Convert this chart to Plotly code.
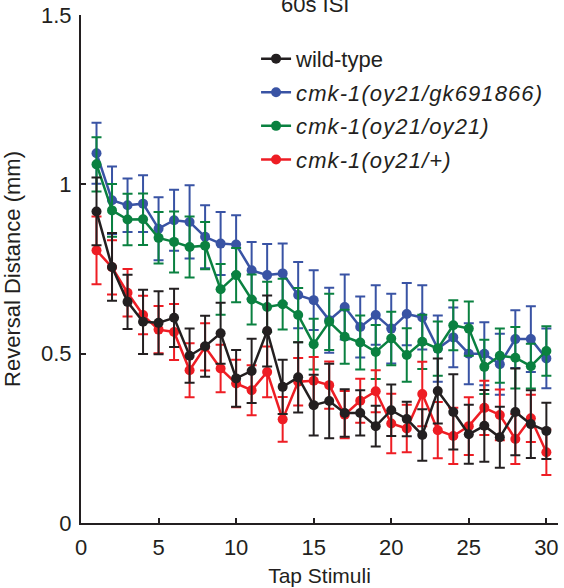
import plotly.graph_objects as go

tap = list(range(1, 31))

wt = [0.92, 0.756, 0.653, 0.594, 0.591, 0.606, 0.494, 0.522, 0.56, 0.427,
      0.449, 0.567, 0.402, 0.43, 0.348, 0.36, 0.325, 0.325, 0.286, 0.333,
      0.307, 0.26, 0.39, 0.328, 0.262, 0.287, 0.253, 0.328, 0.292, 0.272]
wt_err = [0.10, 0.10, 0.08, 0.095, 0.093, 0.086, 0.08, 0.09, 0.09, 0.084,
          0.095, 0.105, 0.08, 0.104, 0.09, 0.11, 0.07, 0.067, 0.06, 0.076,
          0.051, 0.076, 0.096, 0.111, 0.087, 0.106, 0.09, 0.128, 0.1, 0.083]

gk = [1.092, 0.953, 0.938, 0.943, 0.869, 0.894, 0.889, 0.845, 0.825, 0.822,
      0.746, 0.732, 0.737, 0.673, 0.658, 0.599, 0.638, 0.579, 0.614, 0.574,
      0.617, 0.607, 0.515, 0.548, 0.50, 0.50, 0.469, 0.543, 0.543, 0.486]
gk_err = [0.09, 0.10, 0.079, 0.084, 0.093, 0.09, 0.108, 0.093, 0.093, 0.087,
          0.084, 0.092, 0.088, 0.098, 0.088, 0.096, 0.096, 0.09, 0.088, 0.103,
          0.092, 0.095, 0.098, 0.088, 0.09, 0.093, 0.09, 0.085, 0.097, 0.088]

hom = [1.059, 0.923, 0.896, 0.897, 0.842, 0.83, 0.815, 0.819, 0.69, 0.732,
       0.66, 0.638, 0.646, 0.614, 0.528, 0.594, 0.55, 0.533, 0.505, 0.545,
       0.496, 0.535, 0.515, 0.584, 0.574, 0.461, 0.494, 0.488, 0.463, 0.508]
hom_err = [0.08, 0.078, 0.076, 0.076, 0.076, 0.09, 0.09, 0.07, 0.075, 0.08,
           0.074, 0.074, 0.075, 0.08, 0.075, 0.083, 0.08, 0.08, 0.08, 0.079,
           0.079, 0.08, 0.08, 0.074, 0.08, 0.08, 0.08, 0.091, 0.066, 0.073]

het = [0.805, 0.755, 0.68, 0.614, 0.571, 0.564, 0.451, 0.52, 0.456, 0.412,
       0.392, 0.446, 0.306, 0.417, 0.42, 0.407, 0.32, 0.361, 0.389, 0.294,
       0.279, 0.381, 0.274, 0.257, 0.286, 0.34, 0.319, 0.248, 0.309, 0.209]
het_err = [0.10, 0.08, 0.07, 0.057, 0.07, 0.083, 0.08, 0.07, 0.07, 0.07,
           0.074, 0.075, 0.066, 0.07, 0.07, 0.07, 0.07, 0.065, 0.062, 0.088,
           0.07, 0.095, 0.083, 0.083, 0.085, 0.08, 0.075, 0.074, 0.07, 0.067]

ITAL = "<span style='letter-spacing:1.1px'><i>{}</i></span>"
names = ["wild-type", ITAL.format("cmk-1(oy21/gk691866)"),
         ITAL.format("cmk-1(oy21/oy21)"), ITAL.format("cmk-1(oy21/+)")]
colors = ["#231f20", "#3953a4", "#0a8140", "#ee1d24"]
series = [wt, gk, hom, het]
errors = [wt_err, gk_err, hom_err, het_err]

FONT = "Arial, Liberation Sans, Helvetica, sans-serif"

fig = go.Figure()
draw_order = [1, 2, 3, 0]
for i in draw_order:
    fig.add_trace(go.Scatter(
        x=tap, y=series[i], name=names[i], mode="lines+markers",
        line=dict(color=colors[i], width=2.5),
        marker=dict(color=colors[i], size=10, symbol="circle"),
        error_y=dict(type="data", array=errors[i], visible=True,
                     color=colors[i], thickness=2, width=5),
        legendrank=i + 1, legendgroup=str(i),
    ))

fig.update_layout(
    width=564, height=588,
    margin=dict(l=81, r=6, t=15, b=65, autoexpand=False),
    paper_bgcolor="white", plot_bgcolor="white",
    font=dict(family=FONT, size=20, color="#231f20"),
    showlegend=True,
    legend=dict(x=0.367, y=0.955, xanchor="left", yanchor="top",
                bgcolor="rgba(0,0,0,0)", font=dict(size=22),
                tracegroupgap=2, itemwidth=30),
    annotations=[dict(text="60s ISI", x=0.49, y=0.993, xref="paper", yref="paper",
                      xanchor="center", yanchor="bottom", showarrow=False,
                      font=dict(size=22, family=FONT, color="#231f20"))],
)
fig.update_xaxes(range=[0, 30.75], tickvals=[0, 5, 10, 15, 20, 25, 30],
                 ticks="inside", ticklen=5, tickwidth=1.5, tickcolor="#231f20",
                 showline=True, linecolor="#231f20", linewidth=2,
                 showgrid=False, zeroline=False, automargin=False,
                 ticklabelstandoff=4, ticklabeloverflow="allow",
                 title=dict(text="Tap Stimuli", standoff=9,
                            font=dict(size=21, family=FONT)),
                 tickfont=dict(size=22))
fig.update_yaxes(range=[0, 1.5], tickvals=[0, 0.5, 1, 1.5],
                 ticktext=["0", "0.5", "1", "1.5"],
                 ticks="inside", ticklen=5, tickwidth=1.5, tickcolor="#231f20",
                 showline=True, linecolor="#231f20", linewidth=2,
                 showgrid=False, zeroline=False, automargin=False,
                 ticklabelstandoff=3, ticklabeloverflow="allow",
                 title=dict(text="Reversal Distance (mm)", standoff=16,
                            font=dict(size=22, family=FONT)),
                 tickfont=dict(size=22))

# remove the browser's default 8px page margin so the figure sits at (0, 0)
fig.write_html("out.html", config={"displayModeBar": False},
               post_script="document.body.style.margin='0';")
